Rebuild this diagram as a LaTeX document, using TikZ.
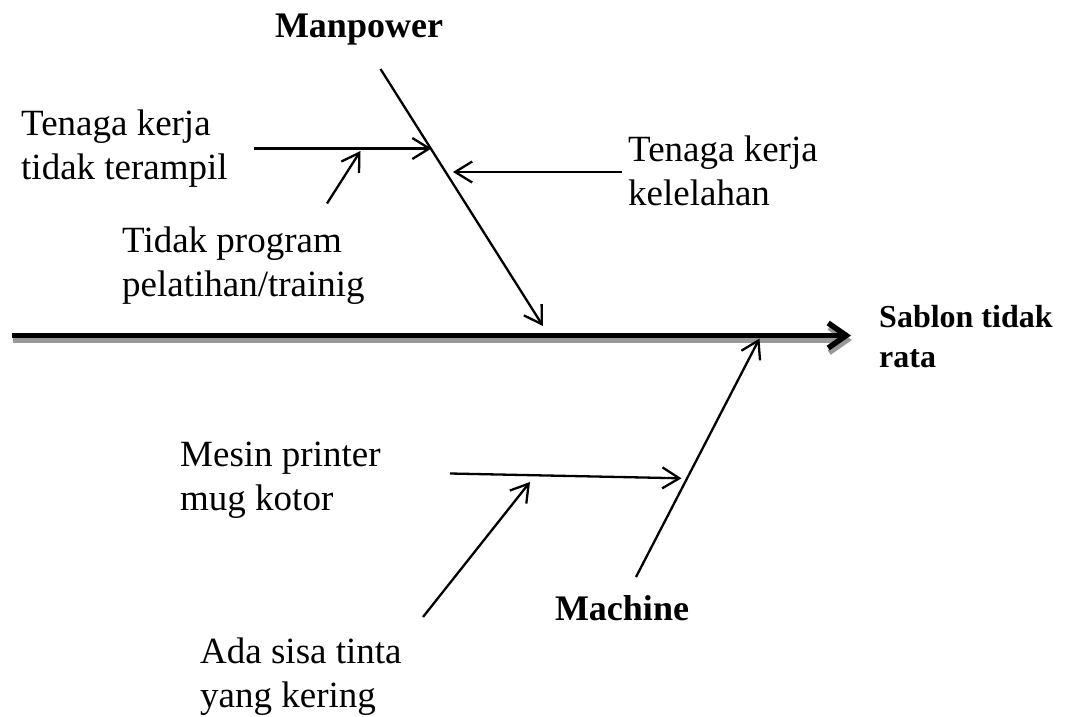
\documentclass[tikz,border=0pt]{standalone}
\usepackage{fontspec}
\setmainfont{Liberation Serif}
\usetikzlibrary{arrows.meta}
\newcommand\twolines[2]{\begin{tabular}[t]{@{}l@{}}#1\\#2\end{tabular}}
\begin{document}
\begin{tikzpicture}[x=1pt,y=-1pt,
  cause/.style={anchor=base west,inner sep=0pt,font=\fontsize{37}{44}\selectfont},
  head/.style={inner sep=0pt,font=\fontsize{36}{45}\selectfont\bfseries},
  effect/.style={anchor=base west,inner sep=0pt,font=\fontsize{32}{40}\selectfont\bfseries},
  bone/.style={line width=2.3pt,-{Straight Barb[length=17pt,width=21pt,line width=2.3pt]}},
  spine/.style={line width=5.5pt,-{Straight Barb[length=18pt,width=25pt,line width=5.5pt]}}]
\useasboundingbox (0,0) rectangle (1066,717);

% main spine with its shadow
\coordinate (spineL) at (12,335.5);
\coordinate (spineR) at (851,335.5);
\draw[spine,draw=black!40] ([shift={(1,4.5)}]spineL) -- ([shift={(1,4.5)}]spineR);
\draw[spine] (spineL) -- (spineR);
\node[effect] (effect) at (879,327) {\twolines{Sablon tidak}{rata}};

% Manpower branch
\node[head,anchor=base] (manpower) at (359,38) {Manpower};
\coordinate (mpTop) at (380.5,69);
\coordinate (mpTip) at (543,326);
\draw[bone] (mpTop) -- (mpTip);

\node[cause] (terampil) at (21,135) {\twolines{Tenaga kerja}{tidak terampil}};
\coordinate (c1L) at (254,148.5);
\coordinate (c1R) at (431.5,148.5);
\draw[bone] (c1L) -- (c1R);

\node[cause] (pelatihan) at (122,252) {\twolines{Tidak program}{pelatihan/trainig}};
\coordinate (s1L) at (327,203.5);
\coordinate (s1R) at (360.5,151);
\draw[bone] (s1L) -- (s1R);

\node[cause] (lelah) at (628,161) {\twolines{Tenaga kerja}{kelelahan}};
\coordinate (c2R) at (622,172);
\coordinate (c2L) at (453,172);
\draw[bone] (c2R) -- (c2L);

% Machine branch
\coordinate (maBot) at (636,577);
\coordinate (maTip) at (759.5,338.5);
\draw[bone] (maBot) -- (maTip);
\node[head,anchor=base] (machine) at (622,620) {Machine};

\node[cause] (kotor) at (180,466) {\twolines{Mesin printer}{mug kotor}};
\coordinate (c3L) at (450,473.5);
\coordinate (c3R) at (681.5,478.3);
\draw[bone] (c3L) -- (c3R);

\node[cause] (tinta) at (200,663) {\twolines{Ada sisa tinta}{yang kering}};
\coordinate (s2L) at (423,617);
\coordinate (s2R) at (530,482);
\draw[bone] (s2L) -- (s2R);
\end{tikzpicture}
\end{document}
